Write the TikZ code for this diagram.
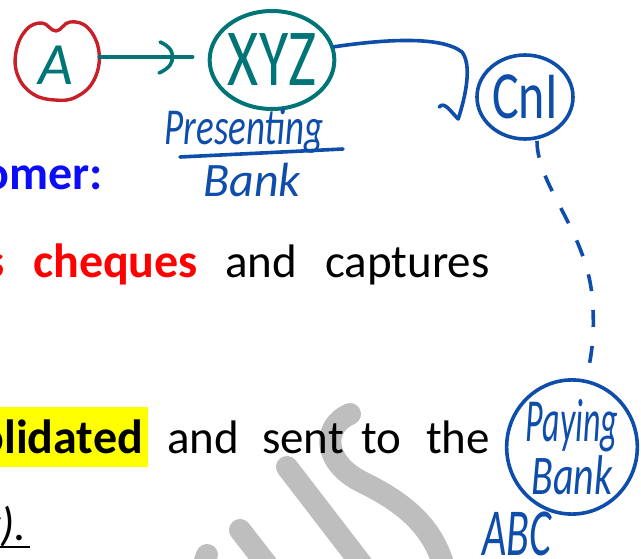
\documentclass[tikz,border=0pt]{standalone}
\usepackage{fontspec}
\setmainfont{Carlito}
\newfontfamily\handfont{Carlito}
\usetikzlibrary{shapes.geometric}

\definecolor{inkteal}{RGB}{0,116,118}
\definecolor{inkred}{RGB}{200,32,40}
\definecolor{inkblue}{RGB}{14,78,170}
\definecolor{txtblue}{RGB}{12,12,250}
\definecolor{txtred}{RGB}{255,0,0}
\definecolor{hilite}{RGB}{255,255,0}
\definecolor{wmgray}{RGB}{190,190,190}

\newcommand\bodyfont{\fontsize{47}{56}\selectfont}
\newcommand\boldbodyfont{\fontsize{48}{56}\selectfont\bfseries}

\begin{document}
\begin{tikzpicture}[x=1pt,y=-1pt,
  word/.style={inner sep=0pt, anchor=base west, font=\bodyfont},
  bword/.style={word, font=\boldbodyfont},
  hand/.style={inner sep=0pt, font=\handfont},
  ink/.style={line width=3.6pt, line cap=round, line join=round},
  bubble/.style={ellipse, inner sep=0pt, ink}
]
\useasboundingbox (0,0) rectangle (641,559);
\clip (0,0) rectangle (641,559);

% watermark strokes behind the text
\begin{scope}[wmgray, line width=22pt, line cap=round]
  \draw (350,414) .. controls (322,426) and (322,462) .. (362,482)
        .. controls (405,503) and (436,528) .. (446,575);
  \draw (287,467) -- (370,575);
  \draw (240,530) -- (275,575);
  \draw (207,555) -- (200,575);
\end{scope}

% highlight behind the bold word
\fill[hilite] (0,407) rectangle (148,467);

% body text
\node[bword, text=txtblue, anchor=base east] (w1) at (103,190) {omer:};

\node[bword, text=txtred, anchor=base east] (w2a) at (5,278) {s};
\node[bword, text=txtred] (w2b) at (33,278) {cheques};
\node[word] (w2c) at (225,278) {and};
\node[word] (w2d) at (325,278) {captures};

\node[bword, anchor=base east] (w3a) at (143,453) {olidated};
\node[word] (w3b) at (167,453) {and};
\node[word] (w3c) at (262,453) {sent};
\node[word] (w3d) at (361,453) {to};
\node[word] (w3e) at (426,453) {the};

\node[word, anchor=base east, font=\bodyfont\itshape] (w4) at (27,540) {y).};
\draw[line width=2pt] ([yshift=-7pt]w4.base west) -- ([xshift=3pt,yshift=-7pt]w4.base east);

% customer A
\node[ellipse, minimum width=84pt, minimum height=80pt, inner sep=0pt] (a) at (57,57) {};
\node[hand, text=inkteal] (alab) at (56,65) {\fontsize{60}{60}\selectfont\itshape A};
\draw[inkred, ink, line width=3.4pt] plot[smooth cycle, tension=0.7] coordinates
  {(56,31) (70,22) (88,28) (99,52) (94,80) (76,97) (55,100) (33,94) (18,76) (16,52) (26,30) (42,23)};

% presenting bank XYZ
\node[bubble, draw=inkteal, line width=4pt, minimum width=118pt, minimum height=98pt,
      text=inkteal, font=\handfont\fontsize{60}{60}\selectfont] (xyz) at (272,60)
      {\scalebox{1}[1.35]{XYZ}};
\node[hand, text=inkblue] (pres) at (244,131)
      {\fontsize{37}{37}\selectfont\itshape\scalebox{1}[1.4]{Presenting}};
\draw[inkblue, ink] (180,157) -- (343,149);
\node[hand, text=inkblue] (bank1) at (252,180) {\fontsize{48}{48}\selectfont\itshape Bank};

% clearing house
\node[bubble, draw=inkblue, minimum width=96pt, minimum height=84pt,
      text=inkblue, font=\handfont\fontsize{50}{50}\selectfont] (cni) at (525,97)
      {\scalebox{1}[1.35]{CnI}};

% paying bank ABC
\node[bubble, draw=inkblue, minimum width=120pt, minimum height=120pt,
      text=inkblue, align=center, font=\handfont\itshape] (pay) at (572,447)
      {\fontsize{34}{34}\selectfont\scalebox{1}[1.8]{Paying}\\[2pt]
       \fontsize{40}{40}\selectfont\scalebox{1}[1.4]{Bank}};
\node[hand, text=inkblue] (abc) at (517,534)
      {\fontsize{42}{42}\selectfont\itshape\scalebox{1}[1.6]{ABC}};

% A -> XYZ
\draw[inkteal, ink] (a.east) -- coordinate[pos=0.78] (chev) ([xshift=-15pt]xyz.west |- a.east);
\draw[inkteal, ink] ([xshift=-12pt,yshift=15pt]chev)
  .. controls ([xshift=-1pt,yshift=10pt]chev) and ([xshift=1pt,yshift=4pt]chev) .. (chev)
  .. controls ([xshift=1pt,yshift=-5pt]chev) and ([xshift=-2pt,yshift=-11pt]chev) .. ([xshift=-13pt,yshift=-16pt]chev);

% XYZ -> CnI
\coordinate (cnitip) at ([xshift=-17pt,yshift=-22pt]cni.west);
\draw[inkblue, ink] (xyz.12) .. controls (380,40) and (440,35) .. (462,52)
  .. controls (472,65) and (466,95) .. (cnitip);
\draw[inkblue, ink] ([xshift=-19pt,yshift=12pt]cnitip)
  .. controls ([xshift=-14pt,yshift=18pt]cnitip) and ([xshift=-8pt,yshift=8pt]cnitip) .. (cnitip);

% CnI -> paying bank
\draw[inkblue, ink, line cap=butt, dash pattern=on 17pt off 19pt]
  ([xshift=12pt]cni.south) .. controls (537,185) and (585,230) .. (592,295)
  .. controls (596,340) and (590,360) .. (pay.78);
\end{tikzpicture}
\end{document}
